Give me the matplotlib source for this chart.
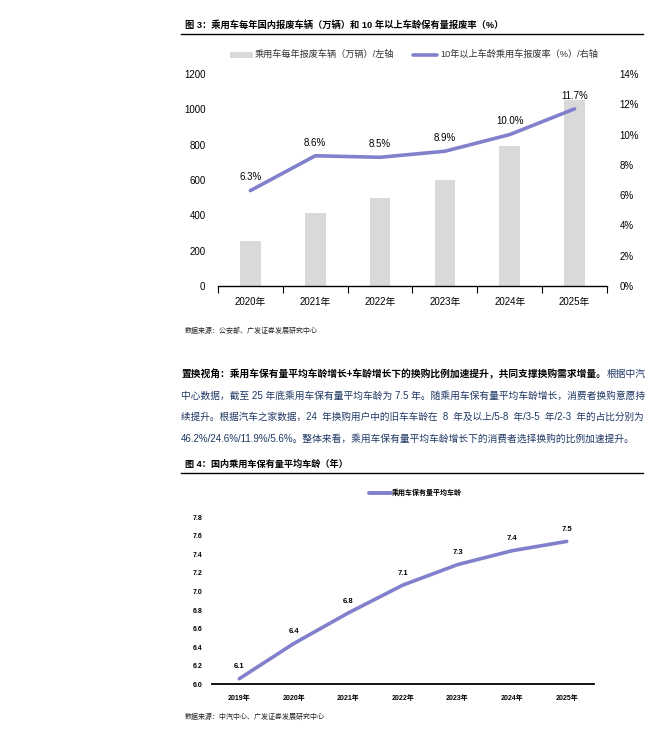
import matplotlib
matplotlib.use("Agg")
import matplotlib.pyplot as plt
from matplotlib.patches import Rectangle
from matplotlib.lines import Line2D
import numpy as np

plt.rcParams['font.family'] = ['Liberation Sans', 'Noto Sans CJK SC', 'DejaVu Sans']

# ---------------- data ----------------
years1 = ['2020年', '2021年', '2022年', '2023年', '2024年', '2025年']
scrap_vol = [257, 415, 496, 602, 790, 1051]          # 万辆, left axis
scrap_rate = [6.3, 8.6, 8.5, 8.9, 10.0, 11.7]        # %, right axis
left_ticks = [0, 200, 400, 600, 800, 1000, 1200]
right_ticks = [0, 2, 4, 6, 8, 10, 12, 14]

years2 = ['2019年', '2020年', '2021年', '2022年', '2023年', '2024年', '2025年']
avg_age = [6.06, 6.44, 6.77, 7.07, 7.29, 7.44, 7.54]
age_ticks = [6.0, 6.2, 6.4, 6.6, 6.8, 7.0, 7.2, 7.4, 7.6, 7.8]

title1 = '图 3：乘用车每年国内报废车辆（万辆）和 10 年以上车龄保有量报废率（%）'
legend1a = '乘用车每年报废车辆（万辆）/左轴'
legend1b = '10年以上车龄乘用车报废率（%）/右轴'
source1 = '数据来源：公安部、广发证券发展研究中心'
title2 = '图 4：国内乘用车保有量平均车龄（年）'
legend2 = '乘用车保有量平均车龄'
source2 = '数据来源：中汽中心、广发证券发展研究中心'
para_bold = '置换视角：乘用车保有量平均车龄增长+车龄增长下的换购比例加速提升，共同支撑换购需求增量。'
para_lines = [
    '根据中汽',
    '中心数据，截至 25 年底乘用车保有量平均车龄为 7.5 年。随乘用车保有量平均车龄增长，消费者换购意愿持',
    '续提升。根据汽车之家数据，24  年换购用户中的旧车车龄在  8  年及以上/5-8  年/3-5  年/2-3  年的占比分别为',
    '46.2%/24.6%/11.9%/5.6%。整体来看，乘用车保有量平均车龄增长下的消费者选择换购的比例加速提升。',
]

BAR = '#D9D9D9'
LINE = '#8080CC'
NAVY = '#1F3864'

W, H = 671, 735
fig = plt.figure(figsize=(W / 100, H / 100), dpi=100)


def fx(x):
    return x / W


def fy(y):
    return 1 - y / H


def ftext(x, y, s, **kw):
    kw.setdefault('va', 'center')
    kw.setdefault('ha', 'left')
    return fig.text(fx(x), fy(y), s, **kw)


# ---------------- chart 1 ----------------
ftext(185, 25, title1, fontsize=6.7, fontweight='bold')
fig.add_artist(Line2D([fx(181), fx(643)], [fy(34), fy(34)], color='black', lw=1.0))

fig.add_artist(Rectangle((fx(230), fy(57.5)), fx(252.5) - fx(230), fy(52) - fy(57.5),
                         facecolor=BAR, edgecolor='none', transform=fig.transFigure))
ftext(255, 54.5, legend1a, fontsize=6.6, color='#333333')
fig.add_artist(Line2D([fx(413), fx(437)], [fy(54.5), fy(54.5)], color=LINE, lw=2.6,
                      solid_capstyle='round'))
ftext(440, 54.5, legend1b, fontsize=6.6, color='#333333')

ax1 = fig.add_axes([fx(218), fy(286), fx(607) - fx(218), fy(74) - fy(286)])
x1 = np.arange(len(years1))
ax1.bar(x1, scrap_vol, width=0.32, color=BAR, zorder=2)
ax1.set_xlim(-0.5, len(years1) - 0.5)
ax1.set_ylim(0, 1200)
ax1.set_yticks(left_ticks)
ax1.set_yticklabels([str(t) for t in left_ticks], fontsize=7)
ax1.set_xticks(x1)
ax1.set_xticklabels(years1, fontsize=7)
ax1.set_xticks(np.arange(-0.5, len(years1)), minor=True)
ax1.tick_params(axis='x', which='major', length=0, pad=8)
ax1.tick_params(axis='x', which='minor', length=5, width=0.8)
ax1.tick_params(axis='y', length=0, pad=9)
for s in ['top', 'left', 'right']:
    ax1.spines[s].set_visible(False)
ax1.spines['bottom'].set_linewidth(1.0)
ax1.patch.set_alpha(0)

ax1b = ax1.twinx()
ax1b.plot(x1, scrap_rate, color=LINE, lw=2.6, solid_capstyle='round', zorder=3)
ax1b.set_ylim(0, 14)
ax1b.set_yticks(right_ticks)
ax1b.set_yticklabels([f'{t}%' for t in right_ticks], fontsize=7)
ax1b.tick_params(axis='y', length=0, pad=9)
for s in ax1b.spines.values():
    s.set_visible(False)
for xi, v in zip(x1, scrap_rate):
    ax1b.annotate(f'{v:.1f}%', (xi, v), xytext=(0, 9.5), textcoords='offset points',
                  ha='center', va='center', fontsize=7)

ftext(185, 331, source1, fontsize=5, color='#222222')

# ---------------- paragraph ----------------
PFS = 7.0
ftext(181, 374, para_bold, fontsize=PFS, fontweight='bold', color='black')
ftext(607, 374, para_lines[0], fontsize=PFS, color=NAVY)
ftext(181, 395.5, para_lines[1], fontsize=PFS, color=NAVY)
ftext(181, 417, para_lines[2], fontsize=6.92, color=NAVY)
ftext(181, 438.5, para_lines[3], fontsize=PFS, color=NAVY)

# ---------------- chart 2 ----------------
ftext(185, 464, title2, fontsize=6.6, fontweight='bold')
fig.add_artist(Line2D([fx(181), fx(643)], [fy(473), fy(473)], color='black', lw=1.0))

fig.add_artist(Line2D([fx(369), fx(391)], [fy(493), fy(493)], color=LINE, lw=2.8,
                      solid_capstyle='round'))
ftext(392, 493, legend2, fontsize=5, fontweight='bold')

ax2 = fig.add_axes([fx(212), fy(684.3), fx(594) - fx(212), fy(517.3) - fy(684.3)])
x2 = np.arange(len(years2))
ax2.plot(x2, avg_age, color=LINE, lw=2.6, solid_capstyle='round')
ax2.set_xlim(-0.5, len(years2) - 0.5)
ax2.set_ylim(6.0, 7.8)
ax2.set_yticks(age_ticks)
ax2.set_yticklabels([f'{t:.1f}' for t in age_ticks], fontsize=5, fontweight='bold')
ax2.set_xticks(x2)
ax2.set_xticklabels(years2, fontsize=5, fontweight='bold')
ax2.tick_params(axis='x', length=0, pad=8)
ax2.tick_params(axis='y', length=0, pad=7)
for s in ['top', 'left', 'right']:
    ax2.spines[s].set_visible(False)
ax2.spines['bottom'].set_linewidth(1.3)
for xi, v in zip(x2, avg_age):
    ax2.annotate(f'{v:.1f}', (xi, v), xytext=(0, 8.5), textcoords='offset points',
                 ha='center', va='center', fontsize=5.5, fontweight='bold')

ftext(185, 717.7, source2, fontsize=5, color='#222222')

fig.savefig('out.png', dpi=100)
